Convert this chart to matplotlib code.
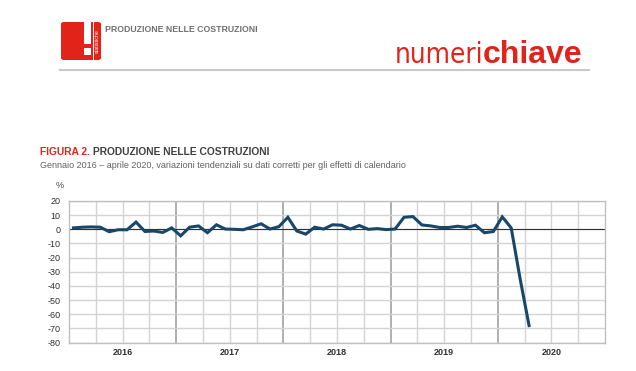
import numpy as np
import matplotlib.pyplot as plt
from matplotlib.patches import FancyBboxPatch, Rectangle
from matplotlib.lines import Line2D

plt.rcParams['font.family'] = ['Liberation Sans', 'DejaVu Sans']

# monthly y/y change, Jan 2016 - Apr 2020
values = [1.0, 1.5, 1.7, 1.5, -1.7, -0.3, -0.3, 5.1, -1.5, -1.2, -2.2, 1.0,
          -4.6, 1.5, 2.4, -2.4, 3.2, 0.2, 0.0, -0.3, 1.7, 3.9, 0.2, 1.9,
          8.5, -1.2, -3.4, 1.5, 0.2, 3.2, 2.9, 0.2, 2.7, 0.0, 0.5, -0.2,
          0.2, 8.5, 9.0, 3.1, 2.4, 1.3, 1.3, 2.2, 1.3, 2.9, -2.4, -1.6,
          8.8, 1.0, -35.0, -68.0]
years = ['2016', '2017', '2018', '2019', '2020']
yticks = [20, 10, 0, -10, -20, -30, -40, -50, -60, -70, -80]

W, H = 636, 371
RED = '#e2231a'
fig = plt.figure(figsize=(W / 100, H / 100), dpi=100)


def px(x, y):
    return x / W, 1 - y / H


def frect(x, y, w, h, **kw):
    # rectangle from top-left corner in pixel units
    fig.patches.append(Rectangle(px(x, y + h), w / W, h / H, transform=fig.transFigure, ec='none', **kw))


# header logo
lx, ly, lw_, lh = 61, 22, 40, 38
fig.patches.append(FancyBboxPatch(px(lx, ly + lh), lw_ / W, lh / H,
                                  boxstyle='round,pad=0,rounding_size=0.005',
                                  transform=fig.transFigure, fc=RED, ec='none'))
frect(lx + 0.58 * lw_, ly, 0.16 * lw_, 0.58 * lh, fc='white')
frect(lx + 0.58 * lw_, ly + 0.68 * lh, 0.16 * lw_, 0.18 * lh, fc='white')
frect(lx + 0.80 * lw_, ly, 0.015 * lw_, lh, fc='white')
fig.text(*px(lx + 0.90 * lw_, ly + 0.5 * lh), 'statistiche', rotation=90, fontsize=3.8,
         color='white', ha='center', va='center')
fig.text(*px(105, 30), 'PRODUZIONE NELLE COSTRUZIONI', fontsize=6.3, color='#707070',
         fontweight='bold', ha='left', va='center')
t1 = fig.text(*px(395, 63), 'numeri', fontsize=20, color=RED, ha='left', va='baseline',
              family=['DejaVu Sans'], fontweight='light', fontstretch='condensed')
fig.canvas.draw()
bb = t1.get_window_extent()
fig.text((bb.x1 - 1) / W, 1 - 63 / H, 'chiave', fontsize=23, color=RED, ha='left', va='baseline',
         fontweight='bold')
fig.add_artist(Line2D([60 / W, 589 / W], [1 - 70 / H] * 2, transform=fig.transFigure,
                      color='#c8c8c8', lw=1.5))

# titles
t2 = fig.text(*px(40, 152), 'FIGURA 2. ', fontsize=7.4, fontweight='bold', color=RED,
              ha='left', va='center')
fig.canvas.draw()
bb = t2.get_window_extent()
fig.text(bb.x1 / W, 1 - 152 / H, 'PRODUZIONE NELLE COSTRUZIONI', fontsize=7.4, fontweight='bold',
         color='#404040', ha='left', va='center')
fig.text(*px(40, 165), 'Gennaio 2016 \u2013 aprile 2020, variazioni tendenziali su dati corretti per gli effetti di calendario',
         fontsize=6.5, color='#606060', ha='left', va='center')
fig.text(*px(60, 186), '%', fontsize=6.5, color='#404040', ha='center', va='center')

# chart
ax = fig.add_axes([69 / W, 1 - 342.6 / H, 536 / W, (342.6 - 201) / H])
n_months = len(years) * 12
x = np.arange(len(values)) + 0.5
ax.set_xlim(0, n_months)
ax.set_ylim(-80, 20)

for q in range(3, n_months, 3):
    col = '#a8a8a8' if q % 12 == 0 else '#d4d4d4'
    ax.axvline(q, color=col, lw=1.3 if q % 12 == 0 else 1.0, zorder=1)
for yv in yticks:
    ax.axhline(yv, color='#d4d4d4', lw=1.0, zorder=1)
ax.axhline(0, color='#303030', lw=0.8, zorder=2)

ax.plot(x, values, color='#17476b', lw=2.2, zorder=3, solid_joinstyle='miter')

ax.set_yticks(yticks)
ax.set_yticklabels([str(v) for v in yticks])
ax.set_xticks(np.arange(len(years)) * 12 + 6)
ax.set_xticklabels(years, fontweight='bold')
ax.tick_params(length=0, labelsize=6.5, colors='#303030')
ax.tick_params(axis='y', pad=6)
ax.tick_params(axis='x', pad=4)
for s in ax.spines.values():
    s.set_color('#c0c0c0')
    s.set_linewidth(1.0)

fig.savefig('out.png', dpi=100)
